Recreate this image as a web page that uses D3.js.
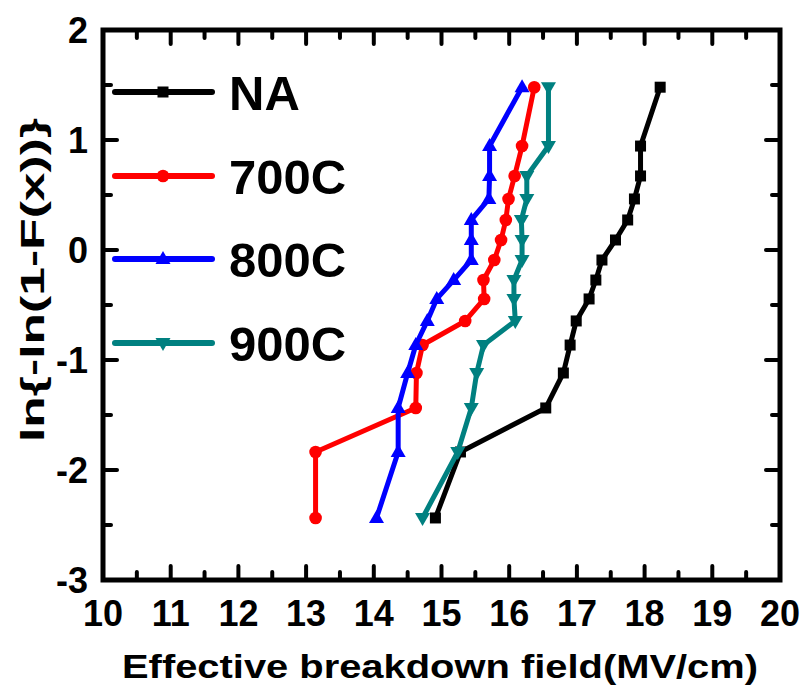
<!DOCTYPE html>
<html><head><meta charset="utf-8">
<script src="https://cdn.jsdelivr.net/npm/d3@7"></script>
<style>body{margin:0;background:#fff}svg{display:block}text{font-family:"Liberation Sans",Arial,sans-serif;font-weight:bold}</style>
</head><body>
<script>
const yLevels = [1.48, 0.945, 0.673, 0.464, 0.273, 0.091, -0.091, -0.273, -0.445, -0.645, -0.864, -1.118, -1.436, -1.836, -2.436];
const naX    = [18.23, 17.94, 17.94, 17.85, 17.75, 17.57, 17.37, 17.28, 17.18, 16.99, 16.90, 16.80, 16.54, 15.28, 14.91];
const c700X  = [16.37, 16.19, 16.08, 15.99, 15.95, 15.88, 15.78, 15.62, 15.63, 15.35, 14.72, 14.63, 14.62, 13.14, 13.14];
const c800X  = [16.19, 15.71, 15.71, 15.70, 15.44, 15.44, 15.44, 15.18, 14.93, 14.79, 14.62, 14.50, 14.36, 14.36, 14.04];
const c900X  = [16.58, 16.58, 16.26, 16.26, 16.18, 16.19, 16.19, 16.07, 16.07, 16.09, 15.62, 15.52, 15.44, 15.24, 14.72];
const seriesNames = ["NA", "700C", "800C", "900C"];
const seriesColors = ["#000000", "#ff0000", "#0000ff", "#008080"];
const seriesSymbols = ["square", "circle", "triangle", "triangleDown"];
const xTicks = [10,11,12,13,14,15,16,17,18,19,20];
const yTicks = [2,1,0,-1,-2,-3];
const xLabel = "Effective breakdown field(MV/cm)";
const yLabel = "ln{-ln(1-F(x))}";

const W = 806, H = 688;
const L = 103, R = 780, T = 30, B = 580;
const svg = d3.select("body").append("svg").attr("width", W).attr("height", H);
const x = d3.scaleLinear().domain([10, 20]).range([L, R]);
const y = d3.scaleLinear().domain([-3, 2]).range([B, T]);

const series = [naX, c700X, c800X, c900X].map((xs, i) => ({
  name: seriesNames[i], color: seriesColors[i], sym: seriesSymbols[i],
  pts: xs.map((v, j) => [v, yLevels[j]])
}));

function marker(sel, sym, color) {
  if (sym === "square") sel.append("rect").attr("x", -5.5).attr("y", -5.5).attr("width", 11).attr("height", 11).attr("fill", color);
  else if (sym === "circle") sel.append("circle").attr("r", 6.3).attr("fill", color);
  else if (sym === "triangle") sel.append("path").attr("d", "M0,-8 L7.5,5 L-7.5,5 Z").attr("fill", color);
  else sel.append("path").attr("d", "M0,8 L7.5,-5 L-7.5,-5 Z").attr("fill", color);
}

// data
const line = d3.line().x(d => x(d[0])).y(d => y(d[1]));
series.forEach(s => {
  svg.append("path").datum(s.pts).attr("d", line).attr("fill", "none")
    .attr("stroke", s.color).attr("stroke-width", 5).attr("stroke-linejoin", "round");
  s.pts.forEach(p => {
    const g = svg.append("g").attr("transform", `translate(${x(p[0])},${y(p[1])})`);
    marker(g, s.sym, s.color);
  });
});

// axes (ticks inward on all sides)
const ax = svg.append("g").attr("stroke", "#000").attr("stroke-linecap", "round");
const xMinor = d3.range(10.5, 20, 1);
const yMinor = d3.range(-2.5, 2, 1);
const MJ = 14, MN = 8;
xTicks.forEach(v => {
  ax.append("line").attr("x1", x(v)).attr("x2", x(v)).attr("y1", B).attr("y2", B - MJ).attr("stroke-width", 4);
  ax.append("line").attr("x1", x(v)).attr("x2", x(v)).attr("y1", T).attr("y2", T + MJ).attr("stroke-width", 4);
});
xMinor.forEach(v => {
  ax.append("line").attr("x1", x(v)).attr("x2", x(v)).attr("y1", B).attr("y2", B - MN).attr("stroke-width", 4);
  ax.append("line").attr("x1", x(v)).attr("x2", x(v)).attr("y1", T).attr("y2", T + MN).attr("stroke-width", 4);
});
yTicks.forEach(v => {
  ax.append("line").attr("y1", y(v)).attr("y2", y(v)).attr("x1", L).attr("x2", L + MJ).attr("stroke-width", 4);
  ax.append("line").attr("y1", y(v)).attr("y2", y(v)).attr("x1", R).attr("x2", R - MJ).attr("stroke-width", 4);
});
yMinor.forEach(v => {
  ax.append("line").attr("y1", y(v)).attr("y2", y(v)).attr("x1", L).attr("x2", L + MN).attr("stroke-width", 4);
  ax.append("line").attr("y1", y(v)).attr("y2", y(v)).attr("x1", R).attr("x2", R - MN).attr("stroke-width", 4);
});
svg.append("rect").attr("x", L).attr("y", T).attr("width", R - L).attr("height", B - T)
  .attr("fill", "none").attr("stroke", "#000").attr("stroke-width", 5);

// tick labels
svg.append("g").selectAll("text").data(xTicks).join("text")
  .attr("x", d => x(d)).attr("y", 626).attr("text-anchor", "middle")
  .attr("font-size", 36).text(d => d);
svg.append("g").selectAll("text").data(yTicks).join("text")
  .attr("x", 88).attr("y", d => y(d) + 13).attr("text-anchor", "end")
  .attr("font-size", 36).text(d => d);

// axis titles
svg.append("text").attr("x", 122).attr("y", 678)
  .attr("font-size", 34).attr("textLength", 636).attr("lengthAdjust", "spacingAndGlyphs").text(xLabel);
svg.append("text").attr("transform", `translate(44,442) rotate(-90)`)
  .attr("font-size", 34).attr("textLength", 324).attr("lengthAdjust", "spacingAndGlyphs").text(yLabel);

// legend
const legY = [92, 176, 259, 343];
series.forEach((s, i) => {
  const g = svg.append("g").attr("transform", `translate(0,${legY[i]})`);
  g.append("line").attr("x1", 115).attr("x2", 212).attr("y1", 0).attr("y2", 0)
    .attr("stroke", s.color).attr("stroke-width", 6).attr("stroke-linecap", "round");
  const m = g.append("g").attr("transform", "translate(163,0)");
  marker(m, s.sym, s.color);
  g.append("text").attr("x", 229).attr("y", 18).attr("font-size", 49).text(s.name);
});
</script>
</body></html>
